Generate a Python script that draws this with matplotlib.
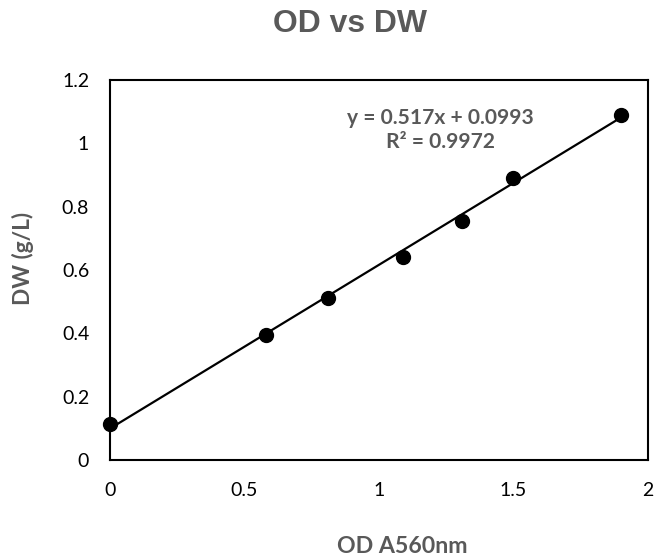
import matplotlib
matplotlib.use("Agg")
import matplotlib.pyplot as plt
import numpy as np

od = [0.0, 0.58, 0.81, 1.09, 1.31, 1.50, 1.90]
dw = [0.115, 0.395, 0.51, 0.64, 0.755, 0.89, 1.09]
slope, intercept = 0.517, 0.0993
eq_text = "y = 0.517x + 0.0993\nR² = 0.9972"
xticks = [0, 0.5, 1, 1.5, 2]
xticklabels = ["0", "0.5", "1", "1.5", "2"]
yticks = [0, 0.2, 0.4, 0.6, 0.8, 1.0, 1.2]
yticklabels = ["0", "0.2", "0.4", "0.6", "0.8", "1", "1.2"]

gray = "#595959"
body = "Lato"

fig = plt.figure(figsize=(6.54, 5.56), dpi=100)
ax = fig.add_axes([0.1682, 0.1727, 0.8226, 0.6835])

fx = np.array([min(od), max(od)])
ax.plot(fx, slope * fx + intercept, color="black", lw=1.6, zorder=2)
ax.plot(od, dw, "o", color="black", ms=10, zorder=3, clip_on=False)

ax.set_xlim(0, 2)
ax.set_ylim(0, 1.2)
ax.set_xticks(xticks)
ax.set_xticklabels(xticklabels, fontfamily=body, fontsize=14)
ax.set_yticks(yticks)
ax.set_yticklabels(yticklabels, fontfamily=body, fontsize=14)
ax.tick_params(axis="x", length=0, pad=16)
ax.tick_params(axis="y", length=0, pad=15)
for s in ax.spines.values():
    s.set_linewidth(1.5)
    s.set_color("black")

xl = fig.text(0.615, 1 - 553 / 556, "OD A560nm", ha="center", va="baseline",
              fontfamily=body, fontsize=17, fontweight="bold", color=gray)
yl = fig.text(23 / 654, 1 - 258.5 / 556, "DW (g/L)", ha="center", va="center", rotation=90,
              fontfamily=body, fontsize=17, fontweight="bold", color=gray)
title = fig.text(0.535, 1 - 32 / 556, "OD vs DW", ha="center", va="baseline",
                 fontfamily="Liberation Sans", fontsize=21, fontweight="bold", color=gray)
eq = ax.text(1.227, 1.042, eq_text, ha="center", va="center", fontfamily=body,
             fontsize=15.5, fontweight="bold", color=gray, linespacing=1.2)

# scale font sizes so the rendered widths match the reference
fig.canvas.draw()
r = fig.canvas.get_renderer()
for t, target, dim in [(xl, 131, "w"), (yl, 93, "h"), (title, 154, "w"), (eq, 186, "w")]:
    bb = t.get_window_extent(r)
    cur = bb.width if dim == "w" else bb.height
    t.set_fontsize(t.get_fontsize() * target / cur)

fig.savefig("out.png", dpi=100)
